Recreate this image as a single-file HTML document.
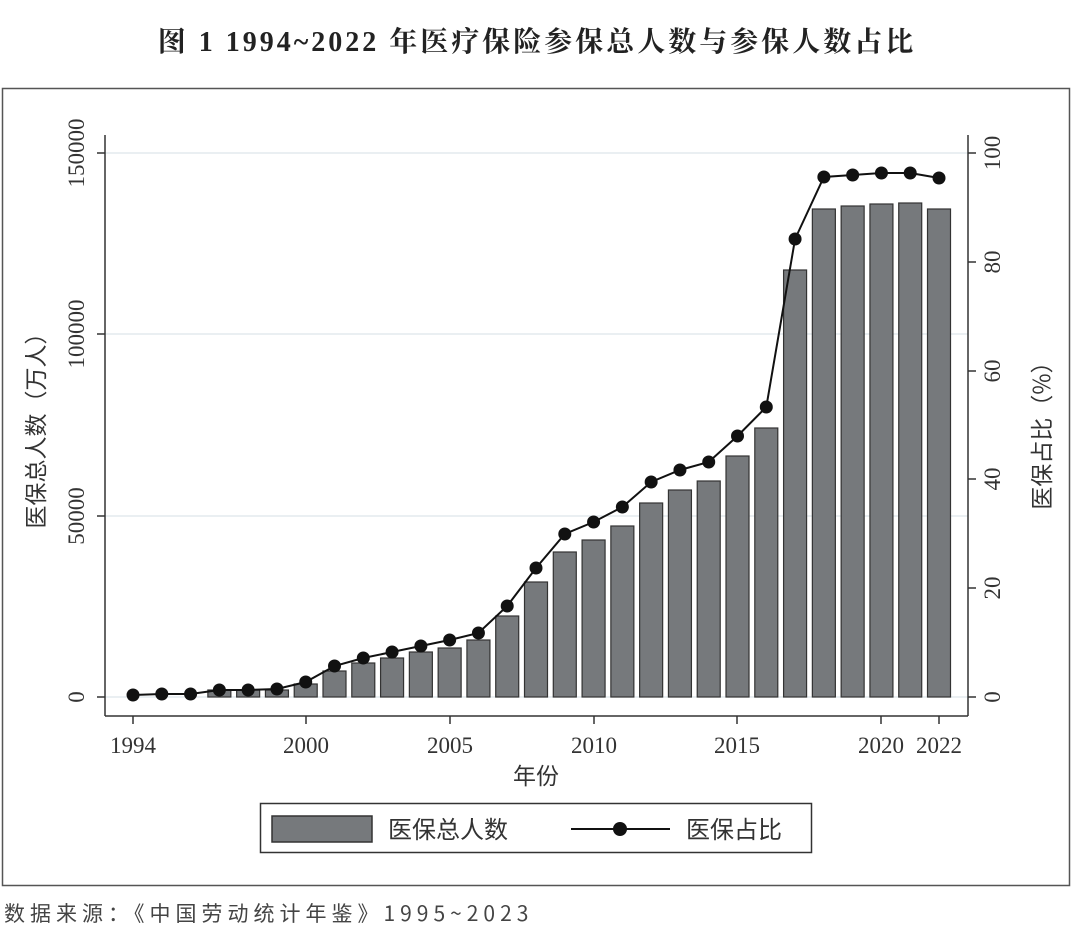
<!DOCTYPE html>
<html><head><meta charset="utf-8"><style>
body{margin:0;background:#fff;width:1080px;height:933px;overflow:hidden;font-family:"Liberation Serif","Noto Serif CJK SC",serif}
</style></head><body>
<svg id="s" width="1080" height="933" xmlns="http://www.w3.org/2000/svg">
<text x="537" y="51" text-anchor="middle" font-size="28" font-weight="bold" letter-spacing="3" font-family="Liberation Serif,Noto Serif CJK SC,serif" fill="#222">图 1  1994~2022 年医疗保险参保总人数与参保人数占比</text>
<rect x="2.5" y="88.5" width="1067" height="797" fill="none" stroke="#555" stroke-width="1.5"/>
<g stroke="#dde5ea" stroke-width="1.2"><line x1="105" y1="153" x2="968" y2="153"/><line x1="105" y1="334" x2="968" y2="334"/><line x1="105" y1="516" x2="968" y2="516"/><line x1="105" y1="697" x2="968" y2="697"/></g>
<g id="bars"></g>
<g id="line"></g>
<g stroke="#333" stroke-width="1.5" fill="none">
<line x1="105" y1="135" x2="105" y2="716"/><line x1="105" y1="716" x2="968" y2="716"/><line x1="968" y1="135" x2="968" y2="716"/>
<line x1="97" y1="153" x2="105" y2="153"/><line x1="97" y1="334" x2="105" y2="334"/><line x1="97" y1="516" x2="105" y2="516"/><line x1="97" y1="697" x2="105" y2="697"/>
<line x1="968" y1="153" x2="976" y2="153"/><line x1="968" y1="262" x2="976" y2="262"/><line x1="968" y1="371" x2="976" y2="371"/><line x1="968" y1="479" x2="976" y2="479"/><line x1="968" y1="588" x2="976" y2="588"/><line x1="968" y1="697" x2="976" y2="697"/>
<line x1="133" y1="716" x2="133" y2="724"/><line x1="306" y1="716" x2="306" y2="724"/><line x1="450" y1="716" x2="450" y2="724"/><line x1="594" y1="716" x2="594" y2="724"/><line x1="737" y1="716" x2="737" y2="724"/><line x1="881" y1="716" x2="881" y2="724"/><line x1="939" y1="716" x2="939" y2="724"/>
</g>
<g font-size="23" fill="#333" font-family="Liberation Serif,serif">
<text transform="translate(84,153) rotate(-90)" text-anchor="middle">150000</text>
<text transform="translate(84,334) rotate(-90)" text-anchor="middle">100000</text>
<text transform="translate(84,516) rotate(-90)" text-anchor="middle">50000</text>
<text transform="translate(84,697) rotate(-90)" text-anchor="middle">0</text>
<text transform="translate(1000,153) rotate(-90)" text-anchor="middle">100</text>
<text transform="translate(1000,262) rotate(-90)" text-anchor="middle">80</text>
<text transform="translate(1000,371) rotate(-90)" text-anchor="middle">60</text>
<text transform="translate(1000,479) rotate(-90)" text-anchor="middle">40</text>
<text transform="translate(1000,588) rotate(-90)" text-anchor="middle">20</text>
<text transform="translate(1000,697) rotate(-90)" text-anchor="middle">0</text>
<g text-anchor="middle"><text x="133" y="753">1994</text><text x="306" y="753">2000</text><text x="450" y="753">2005</text><text x="594" y="753">2010</text><text x="737" y="753">2015</text><text x="881" y="753">2020</text><text x="939" y="753">2022</text></g>
</g>
<text x="536" y="784" text-anchor="middle" font-size="23" fill="#333" font-family="Liberation Serif,Noto Sans CJK SC,sans-serif">年份</text>
<text transform="translate(44,425) rotate(-90)" text-anchor="middle" font-size="23" fill="#333" font-family="Noto Sans CJK SC,sans-serif">医保总人数（万人）</text>
<text transform="translate(1050,430) rotate(-90)" text-anchor="middle" font-size="23" fill="#333" font-family="Noto Sans CJK SC,sans-serif">医保占比（%）</text>
<rect x="260.5" y="803.5" width="551" height="49" fill="#fff" stroke="#333" stroke-width="1.5"/>
<rect x="272" y="816" width="100" height="26" fill="#76797c" stroke="#333" stroke-width="1.5"/>
<text x="388" y="838" font-size="24" fill="#333" font-family="Noto Sans CJK SC,sans-serif">医保总人数</text>
<line x1="571" y1="829" x2="670" y2="829" stroke="#111" stroke-width="2"/><circle cx="620" cy="829" r="7" fill="#111"/>
<text x="686" y="838" font-size="24" fill="#333" font-family="Noto Sans CJK SC,sans-serif">医保占比</text>
<text x="4" y="921" font-size="21" fill="#444" letter-spacing="5" font-family="Noto Sans CJK SC,sans-serif">数据来源：《中国劳动统计年鉴》1995~2023</text>
</svg>
<script>
var bars=[697,697,697,690,690,690,684,671,663,658,652,648,640,616,582,552,540,526,503,490,481,456,428,270,209,206,204,203,209];
var pts=[695,694,694,690,690,689,682,666,658,652,646,640,633,606,568,534,522,507,482,470,462,436,407,239,177,175,173,173,178];
var ns="http://www.w3.org/2000/svg",b=document.getElementById("bars"),l=document.getElementById("line"),d="";
for(var i=0;i<29;i++){var x=133+i*28.786;
if(bars[i]<697){var r=document.createElementNS(ns,"rect");r.setAttribute("x",x-11.5);r.setAttribute("y",bars[i]);r.setAttribute("width",23);r.setAttribute("height",697-bars[i]);r.setAttribute("fill","#76797c");r.setAttribute("stroke","#333");r.setAttribute("stroke-width","1.2");b.appendChild(r);}
d+=(i?"L":"M")+x+" "+pts[i];}
var p=document.createElementNS(ns,"path");p.setAttribute("d",d);p.setAttribute("fill","none");p.setAttribute("stroke","#111");p.setAttribute("stroke-width","2");l.appendChild(p);
for(var i=0;i<29;i++){var c=document.createElementNS(ns,"circle");c.setAttribute("cx",133+i*28.786);c.setAttribute("cy",pts[i]);c.setAttribute("r",6.5);c.setAttribute("fill","#111");l.appendChild(c);}
</script>
</body></html>
